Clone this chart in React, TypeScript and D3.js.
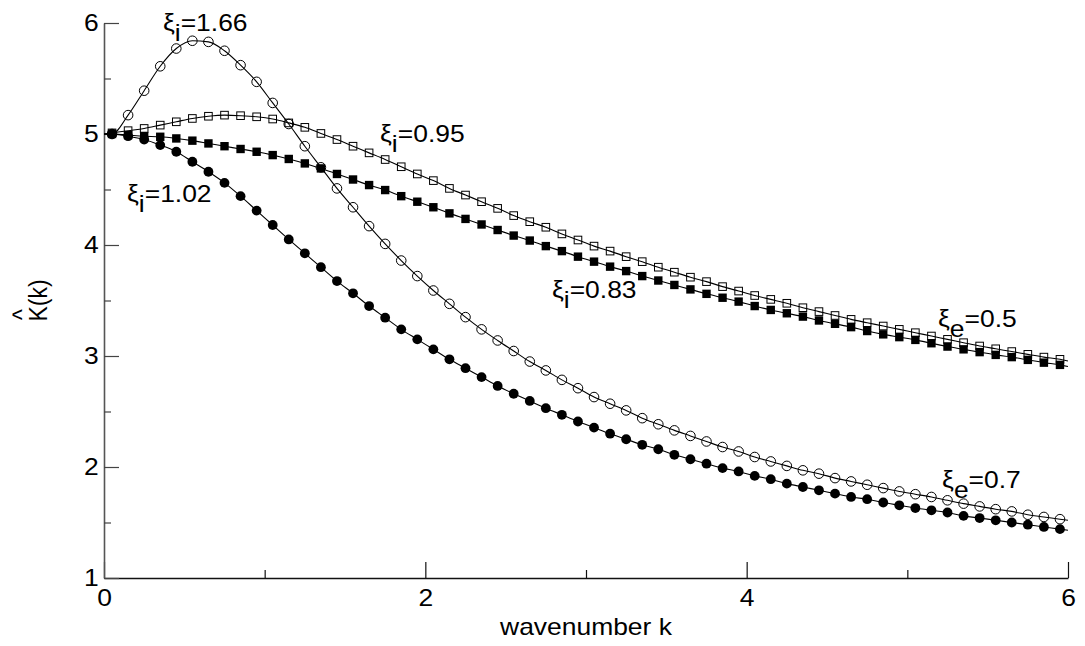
// App.tsx
import * as d3 from "d3";
import { useEffect, useRef } from "react";

const width = 1085;
const height = 646;
const margin = { top: 23, right: 17, bottom: 68, left: 104 };
const fontFamily = "'Liberation Sans', Arial, Helvetica, sans-serif";
const stretch = 1.15; // the original raster is a bit wider than tall

// wavenumber k at every marker
const kValues = [
  0.05, 0.15, 0.25, 0.35, 0.45, 0.55, 0.65, 0.75, 0.85, 0.95,
  1.05, 1.15, 1.25, 1.35, 1.45, 1.55, 1.65, 1.75, 1.85, 1.95,
  2.05, 2.15, 2.25, 2.35, 2.45, 2.55, 2.65, 2.75, 2.85, 2.95,
  3.05, 3.15, 3.25, 3.35, 3.45, 3.55, 3.65, 3.75, 3.85, 3.95,
  4.05, 4.15, 4.25, 4.35, 4.45, 4.55, 4.65, 4.75, 4.85, 4.95,
  5.05, 5.15, 5.25, 5.35, 5.45, 5.55, 5.65, 5.75, 5.85, 5.95,
];

// xi_i = 1.66 (open circles, xi_e = 0.7)
const openCircles = [
  5.0, 5.17, 5.39, 5.61, 5.77, 5.84, 5.83, 5.75, 5.62, 5.47,
  5.28, 5.09, 4.89, 4.7, 4.51, 4.34, 4.17, 4.01, 3.86, 3.72,
  3.59, 3.47, 3.35, 3.24, 3.14, 3.045, 2.95, 2.87, 2.785, 2.71,
  2.63, 2.57, 2.51, 2.44, 2.385, 2.33, 2.28, 2.23, 2.18, 2.14,
  2.09, 2.05, 2.01, 1.97, 1.94, 1.9, 1.87, 1.84, 1.81, 1.78,
  1.755, 1.73, 1.7, 1.67, 1.645, 1.62, 1.6, 1.57, 1.55, 1.53,
];

// xi_i = 1.02 (filled circles, xi_e = 0.7)
const filledCircles = [
  5.0, 4.98, 4.95, 4.9, 4.84, 4.75, 4.66, 4.56, 4.44, 4.31,
  4.18, 4.05, 3.925, 3.8, 3.675, 3.565, 3.45, 3.345, 3.24, 3.15,
  3.06, 2.97, 2.89, 2.81, 2.73, 2.66, 2.595, 2.53, 2.47, 2.41,
  2.355, 2.3, 2.25, 2.2, 2.16, 2.11, 2.07, 2.03, 1.99, 1.96,
  1.92, 1.89, 1.85, 1.82, 1.79, 1.76, 1.73, 1.71, 1.68, 1.655,
  1.63, 1.61, 1.59, 1.56, 1.54, 1.52, 1.5, 1.48, 1.46, 1.44,
];

// xi_i = 0.95 (open squares, xi_e = 0.5)
const openSquares = [
  5.01, 5.03, 5.05, 5.08, 5.11, 5.14, 5.16, 5.17, 5.165, 5.155,
  5.135, 5.1, 5.06, 5.005, 4.95, 4.89, 4.83, 4.77, 4.705, 4.64,
  4.58, 4.51, 4.45, 4.39, 4.33, 4.265, 4.21, 4.16, 4.1, 4.045,
  3.99, 3.945, 3.895, 3.85, 3.8, 3.755, 3.71, 3.67, 3.625, 3.585,
  3.545, 3.51, 3.475, 3.435, 3.4, 3.365, 3.33, 3.3, 3.27, 3.24,
  3.21, 3.18, 3.15, 3.12, 3.09, 3.065, 3.04, 3.015, 2.99, 2.97,
];

// xi_i = 0.83 (filled squares, xi_e = 0.5)
const filledSquares = [
  5.0, 4.99, 4.98, 4.975, 4.96, 4.94, 4.915, 4.89, 4.865, 4.84,
  4.81, 4.775, 4.735, 4.69, 4.64, 4.59, 4.54, 4.495, 4.44, 4.39,
  4.34, 4.285, 4.235, 4.185, 4.135, 4.085, 4.04, 3.99, 3.945, 3.895,
  3.85, 3.805, 3.765, 3.72, 3.68, 3.64, 3.6, 3.56, 3.525, 3.49,
  3.45, 3.415, 3.385, 3.355, 3.32, 3.29, 3.26, 3.225, 3.195, 3.17,
  3.145, 3.115, 3.085, 3.06, 3.035, 3.01, 2.99, 2.965, 2.94, 2.92,
];

// every curve leaves the axis at 5 and runs on to k = 6
const kStart = 0;
const kEnd = 6;
const startValue = 5.0;
const endValues = [1.52, 1.43, 2.955, 2.905]; // openCircles, filledCircles, openSquares, filledSquares

const xTicks = [0, 2, 4, 6];
const xMinorTicks = [1, 3, 5];
const yTicks = [1, 2, 3, 4, 5, 6];
const yMinorTicks = [1.5, 2.5, 3.5, 4.5, 5.5];

// curve annotations: xi_sub=value, placed at (k, K)
const labelSubs = ["i", "i", "i", "i", "e", "e"];
const labelValues = ["1.66", "0.95", "1.02", "0.83", "0.5", "0.7"];
const labelK = [0.367, 1.718, 0.143, 2.788, 5.191, 5.216];
const labelY = [5.928, 4.928, 4.387, 3.523, 3.261, 1.811];

export default function App() {
  const svgRef = useRef<SVGSVGElement>(null);

  useEffect(() => {
    const svg = d3.select(svgRef.current);
    svg.selectAll("*").remove();

    const x = d3.scaleLinear().domain([0, 6]).range([margin.left, width - margin.right]);
    const y = d3.scaleLinear().domain([1, 6]).range([height - margin.bottom, margin.top]);

    // bottom axis
    const gx = svg.append("g").attr("transform", `translate(0,${y(1)})`);
    gx.call(
      d3.axisBottom(x).tickValues(xTicks).tickSizeInner(-16).tickSizeOuter(0)
        .tickPadding(12).tickFormat(d3.format("d"))
    );
    gx.select(".domain").attr("stroke", "#111").attr("stroke-width", 1.4);
    gx.selectAll(".tick line").attr("stroke", "#111").attr("stroke-width", 1.2);
    gx.selectAll(".tick text")
      .attr("fill", "#000")
      .style("font-size", "23px")
      .style("font-family", fontFamily)
      .attr("transform", `scale(${stretch},1)`);

    const gxm = svg.append("g").attr("transform", `translate(0,${y(1)})`);
    gxm.call(d3.axisBottom(x).tickValues(xMinorTicks).tickSizeInner(-8).tickSizeOuter(0).tickFormat(() => ""));
    gxm.select(".domain").remove();
    gxm.selectAll(".tick line").attr("stroke", "#111").attr("stroke-width", 1.2);

    // left axis
    const gy = svg.append("g").attr("transform", `translate(${x(0)},0)`);
    gy.call(
      d3.axisLeft(y).tickValues(yTicks).tickSizeInner(-15).tickSizeOuter(0)
        .tickPadding(4.5).tickFormat(d3.format("d"))
    );
    gy.select(".domain").attr("stroke", "#555").attr("stroke-width", 1.6);
    gy.selectAll(".tick line").attr("stroke", "#444").attr("stroke-width", 1.2);
    gy.selectAll(".tick text")
      .attr("fill", "#000")
      .style("font-size", "23px")
      .style("font-family", fontFamily)
      .attr("transform", `scale(${stretch},1)`);

    const gym = svg.append("g").attr("transform", `translate(${x(0)},0)`);
    gym.call(d3.axisLeft(y).tickValues(yMinorTicks).tickSizeInner(-7).tickSizeOuter(0).tickFormat(() => ""));
    gym.select(".domain").remove();
    gym.selectAll(".tick line").attr("stroke", "#444").attr("stroke-width", 1.2);

    // axis titles
    svg.append("text")
      .attr("transform", `translate(${(x(0) + x(6)) / 2},635) scale(${stretch},1)`)
      .attr("text-anchor", "middle")
      .style("font-size", "23px")
      .style("font-family", fontFamily)
      .text("wavenumber k");

    const yTitle = svg.append("g")
      .attr("transform", `translate(47,${(y(1) + y(6)) / 2}) scale(${stretch},1) rotate(-90)`)
      .style("font-size", "23px")
      .style("font-family", fontFamily);
    yTitle.append("text").attr("text-anchor", "middle").text("K(k)");
    yTitle.append("text").attr("x", -14).attr("y", -14).attr("text-anchor", "middle").text("^");

    // curves
    const series = [openCircles, filledCircles, openSquares, filledSquares];
    const line = d3.line<[number, number]>()
      .x(d => x(d[0]))
      .y(d => y(d[1]))
      .curve(d3.curveMonotoneX);

    series.forEach((vals, si) => {
      const pts: [number, number][] = [[kStart, startValue]];
      kValues.forEach((k, i) => pts.push([k, vals[i]]));
      pts.push([kEnd, endValues[si]]);
      svg.append("path")
        .attr("d", line(pts))
        .attr("fill", "none")
        .attr("stroke", "#000")
        .attr("stroke-width", 1.1);
    });

    const pairs = (vals: number[]) => kValues.map((k, i) => [k, vals[i]] as [number, number]);

    svg.append("g").selectAll("circle").data(pairs(openCircles)).join("circle")
      .attr("cx", d => x(d[0])).attr("cy", d => y(d[1])).attr("r", 4.8)
      .attr("fill", "none").attr("stroke", "#000").attr("stroke-width", 1);

    svg.append("g").selectAll("rect").data(pairs(openSquares)).join("rect")
      .attr("x", d => x(d[0]) - 3.8).attr("y", d => y(d[1]) - 3.8)
      .attr("width", 7.6).attr("height", 7.6)
      .attr("fill", "none").attr("stroke", "#000").attr("stroke-width", 1);

    svg.append("g").selectAll("rect").data(pairs(filledSquares)).join("rect")
      .attr("x", d => x(d[0]) - 4.2).attr("y", d => y(d[1]) - 4.2)
      .attr("width", 8.4).attr("height", 8.4)
      .attr("fill", "#000");

    svg.append("g").selectAll("circle").data(pairs(filledCircles)).join("circle")
      .attr("cx", d => x(d[0])).attr("cy", d => y(d[1])).attr("r", 4.9)
      .attr("fill", "#000");

    // annotations
    labelValues.forEach((v, i) => {
      const t = svg.append("text")
        .attr("transform", `translate(${x(labelK[i])},${y(labelY[i])}) scale(${stretch},1)`)
        .style("font-size", "23px")
        .style("font-family", fontFamily);
      t.append("tspan").text("ξ");
      t.append("tspan").attr("dy", 10).text(labelSubs[i]);
      t.append("tspan").attr("dy", -10).text("=" + v);
    });
  }, []);

  return (
    <div style={{ position: "absolute", left: 0, top: 0 }}>
      <svg ref={svgRef} width={width} height={height} style={{ display: "block", background: "#fff" }} />
    </div>
  );
}
